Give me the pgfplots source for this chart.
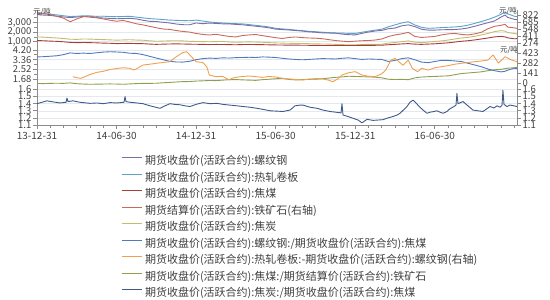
\documentclass[border=0pt]{standalone}
\usepackage{fontspec}
\setmainfont{Noto Sans CJK SC}
\usepackage{pgfplots}
\usepackage{pgfplotstable}
\pgfplotsset{compat=1.18}

\definecolor{cRebar}{HTML}{7A6EA8}
\definecolor{cHrc}{HTML}{5BA3C9}
\definecolor{cJm}{HTML}{A83C3C}
\definecolor{cIron}{HTML}{C86A5A}
\definecolor{cCoke}{HTML}{C4BC6A}
\definecolor{cRatioA}{HTML}{4F7BBD}
\definecolor{cSpread}{HTML}{F0A050}
\definecolor{cRatioB}{HTML}{8F9F50}
\definecolor{cRatioC}{HTML}{3D5A8A}
\definecolor{axisgray}{HTML}{8C8C8C}
\definecolor{labelgray}{HTML}{404040}
\definecolor{gridcol}{HTML}{E4E9EF}

% months after 2013-12-31; prices in yuan/t
\pgfplotstableread{
m hrc rebar jm coke iron
0 3940 3820 1120 1500 870
0.5 3900 3770 1095 1470 855
1 3860 3735 1060 1425 825
1.5 3790 3660 1035 1385 795
2 3700 3575 990 1330 760
2.5 3620 3510 925 1255 690
3 3650 3570 900 1240 745
3.5 3700 3625 915 1280 790
4 3675 3555 900 1270 800
4.5 3640 3490 880 1240 770
5 3655 3470 850 1215 745
5.5 3620 3420 835 1190 720
6 3600 3390 800 1160 700
6.5 3625 3405 812 1180 715
7 3640 3430 825 1205 685
7.5 3560 3370 800 1170 650
8 3480 3230 790 1150 628
8.5 3400 3120 750 1090 600
9 3360 3100 722 1040 572
9.5 3300 3020 742 1062 548
10 3250 2950 760 1090 540
10.5 3220 2840 772 1100 518
11 3200 2770 758 1080 500
11.5 3180 2760 740 1040 488
12 3250 2950 730 1020 460
12.5 3150 2870 718 1008 442
13 3050 2940 700 990 430
13.5 2990 2900 712 1012 445
14 2950 2860 708 1020 422
14.5 2900 2850 690 972 402
15 2880 2800 680 940 392
15.5 2850 2760 700 962 420
16 2780 2680 712 982 432
16.5 2700 2610 700 960 440
17 2620 2540 690 940 418
17.5 2530 2440 672 900 398
18 2390 2305 660 872 378
18.5 2330 2264 650 850 362
19 2280 2220 642 832 382
19.5 2210 2160 640 820 392
20 2150 2108 630 810 380
20.5 2080 2025 622 790 372
21 2040 1980 612 772 368
21.5 1990 1924 605 760 358
22 1940 1900 600 750 340
22.5 1910 1892 592 722 322
23 1890 1790 586 692 310
23.5 1870 1730 590 672 300
24 1860 1705 600 680 310
24.5 1980 1865 610 700 318
25 2100 2005 620 720 322
25.5 2200 2111 622 712 332
26 2300 2180 632 730 352
26.5 2550 2350 680 850 400
27 2750 2420 720 920 432
27.5 2950 2650 762 1000 452
28 3080 2750 800 1080 482
28.5 2740 2570 742 950 402
29 2500 2295 720 900 382
29.5 2390 2205 750 960 392
30 2420 2205 780 1020 402
30.5 2470 2240 830 1080 432
31 2500 2255 880 1170 452
31.5 2530 2265 960 1280 462
32 2600 2320 1040 1380 442
32.5 2720 2430 1100 1450 432
33 2900 2600 1180 1550 452
33.5 3100 2790 1280 1700 482
34 3300 2976 1380 1850 552
34.5 3550 3155 1500 2050 600
35 3850 3568 1550 2150 620
35.3 4100 3770 1500 2100 640
35.5 3900 3530 1400 1950 585
36 3650 3326 1300 1850 570
36.2 3600 3300 1320 1800 560
}\pricetable

% ratios: rebar/coking coal, coking coal/iron ore
\pgfplotstableread{
m ra rb
0 3.60 1.29
0.5 3.62 1.28
1 3.66 1.30
1.5 3.70 1.31
2 3.80 1.30
2.5 3.95 1.34
3 3.90 1.27
3.5 3.93 1.24
4 3.90 1.22
4.5 3.96 1.23
5 4.02 1.24
5.5 4.05 1.25
6 4.03 1.24
6.5 4.00 1.22
7 3.92 1.25
7.5 3.90 1.28
8 3.80 1.30
8.5 3.65 1.30
9 3.50 1.31
9.5 3.36 1.35
10 3.22 1.38
10.5 3.16 1.42
11 3.15 1.45
11.5 3.22 1.46
12 3.36 1.50
12.5 3.45 1.52
13 3.50 1.55
13.5 3.47 1.54
14 3.52 1.58
14.5 3.50 1.62
15 3.54 1.63
15.5 3.55 1.60
16 3.57 1.58
16.5 3.55 1.56
17 3.60 1.62
17.5 3.58 1.66
18 3.55 1.70
18.5 3.48 1.74
19 3.42 1.64
19.5 3.38 1.60
20 3.35 1.62
20.5 3.38 1.65
21 3.42 1.66
21.5 3.45 1.70
22 3.44 1.76
22.5 3.42 1.82
23 3.48 1.86
23.5 3.52 1.92
24 3.45 1.90
24.5 3.38 1.88
25 3.42 1.86
25.5 3.40 1.84
26 3.38 1.78
26.5 3.20 1.66
27 3.30 1.63
27.5 3.45 1.65
28 3.52 1.62
28.5 3.35 1.78
29 3.15 1.85
29.5 3.10 1.88
30 3.20 1.90
30.5 3.30 1.93
31 3.30 1.95
31.5 3.25 2.05
32 3.20 2.15
32.5 3.05 2.20
33 2.90 2.25
33.5 2.75 2.30
34 2.55 2.40
34.5 2.40 2.48
35 2.30 2.52
35.3 2.35 2.58
35.5 2.45 2.62
36 2.62 2.66
36.2 2.58 2.70
}\ratiotable

% hot-rolled coil minus rebar, yuan/t
\pgfplotstableread{
m s
2.7 89
3 75
3.3 66
3.5 80
4 120
4.5 150
5 165
5.5 190
6 205
6.5 215
7 207
7.3 183
7.5 200
8 254
8.5 265
9 278
9.5 290
10 300
10.5 370
11 430
11.3 441
11.5 400
12 300
12.5 290
12.8 230
13 113
13.5 89
14 95
14.5 42
14.7 66
15 80
15.5 92
16 99
16.5 90
17 80
17.5 92
18 85
18.5 66
19 58
19.5 50
20 42
20.5 55
21 62
21.5 60
22 40
22.3 18
22.7 60
23 113
23.5 145
24 160
24.5 113
25 95
25.5 89
26 130
26.3 183
26.7 324
27 348
27.3 300
27.6 250
28 324
28.3 207
28.7 160
29 207
29.5 183
30 215
30.5 230
31 245
31.5 265
32 278
32.5 290
33 300
33.5 310
34 324
34.4 395
34.8 282
35.3 370
35.8 324
36.2 300
}\spreadtable

% coke/coking coal
\pgfplotstableread{
m c
0 1.40
0.75 1.44
1.73 1.41
2.19 1.42
2.26 1.48
2.34 1.43
2.71 1.44
3.24 1.42
4.0 1.405
4.52 1.41
4.98 1.40
5.5 1.415
6.03 1.41
6.56 1.42
6.64 1.50
6.71 1.43
7.01 1.42
7.54 1.41
7.99 1.40
8.52 1.37
9.28 1.335
9.65 1.37
10.03 1.40
10.4 1.39
10.78 1.385
11.16 1.37
11.54 1.36
11.99 1.39
12.52 1.415
13.05 1.40
13.57 1.405
14.03 1.39
14.55 1.38
15.08 1.37
15.54 1.36
16.06 1.35
16.59 1.335
17.04 1.32
17.57 1.30
18.1 1.295
18.55 1.29
19.08 1.31
19.46 1.37
19.83 1.38
20.06 1.38
20.59 1.35
21.12 1.335
21.57 1.31
22.1 1.29
22.55 1.28
22.93 1.27
23.0 1.40
23.08 1.24
23.45 1.22
23.83 1.195
24.21 1.17
24.51 1.13
24.89 1.18
25.34 1.165
25.72 1.17
26.09 1.175
26.47 1.20
26.85 1.22
27.15 1.24
27.38 1.265
27.68 1.32
27.9 1.36
28.13 1.42
28.36 1.45
28.58 1.41
28.88 1.35
29.18 1.30
29.41 1.265
29.64 1.28
29.94 1.29
30.17 1.30
30.39 1.28
30.62 1.265
30.92 1.29
31.15 1.33
31.45 1.36
31.6 1.38
31.67 1.545
31.75 1.40
32.13 1.43
32.5 1.37
32.88 1.31
33.26 1.30
33.63 1.29
33.94 1.33
34.16 1.36
34.46 1.34
34.69 1.37
34.92 1.35
35.07 1.38
35.14 1.59
35.22 1.39
35.44 1.36
35.67 1.38
35.97 1.37
36.2 1.36
}\cokeratiotable

\pgfplotsset{
  panel/.style={
    scale only axis, width=480pt, xmin=0, xmax=36.2,
    anchor=south west,
    axis line style={draw=axisgray, line width=0.8pt},
    tick style={draw=axisgray, line width=0.7pt},
    major tick length=4pt, minor tick length=2.5pt,
    tick align=outside,
    ticklabel style={font=\fontsize{9.5}{10}\selectfont, text=labelgray},
    /pgf/number format/assume math mode=true,
    every axis plot/.append style={line width=0.9pt, line join=round},
  },
  leftpanel/.style={panel, axis y line*=left,
    ymajorgrids, major grid style={draw=gridcol, line width=0.5pt},
    yticklabel style={inner sep=1.5pt}},
  rightpanel/.style={panel, axis y line*=right, axis x line=none, xtick=\empty,
    yticklabel style={inner sep=1.5pt}},
}

\begin{document}
\begin{tikzpicture}
\useasboundingbox (0pt,0pt) rectangle (550pt,300pt);

% ---- top panel: prices ----
\begin{axis}[leftpanel, axis x line=none, xtick=\empty,
  at={(37pt,254pt)}, height=36pt,
  ymin=550, ymax=4300,
  ytick={1000,2000,3000}, yticklabels={{1,000},{2,000},{3,000}},
  minor ytick={1500,2500,3500}]
  \addplot[cHrc] table[x=m,y=hrc] {\pricetable};
  \addplot[cRebar] table[x=m,y=rebar] {\pricetable};
  \addplot[cCoke] table[x=m,y=coke] {\pricetable};
  \addplot[cJm] table[x=m,y=jm] {\pricetable};
\end{axis}
\begin{axis}[rightpanel, at={(37pt,254pt)}, height=36pt,
  ymin=215, ymax=920,
  ytick={274,411,548,685,822}]
  \addplot[cIron] table[x=m,y=iron] {\pricetable};
\end{axis}

% ---- middle panel: ratios and spread ----
\begin{axis}[leftpanel, axis x line=none, xtick=\empty,
  at={(37pt,214pt)}, height=40pt,
  ymin=1.07, ymax=4.55,
  ytick={1.68,2.52,3.36,4.20}, yticklabels={1.68,2.52,3.36,4.20},
  minor ytick={2.10,2.94,3.78}]
  \addplot[cRatioB] table[x=m,y=rb] {\ratiotable};
  \addplot[cRatioA] table[x=m,y=ra] {\ratiotable};
\end{axis}
\begin{axis}[rightpanel, at={(37pt,214pt)}, height=40pt,
  ymin=-42, ymax=522,
  ytick={0,141,282,423}]
  \addplot[cSpread] table[x=m,y=s] {\spreadtable};
\end{axis}

% ---- bottom panel: coke / coking coal ----
\begin{axis}[rightpanel, at={(37pt,175pt)}, height=39pt,
  ymin=1.1, ymax=1.649,
  ytick={1.1,1.2,1.3,1.4,1.5,1.6}, yticklabels={1.1,1.2,1.3,1.4,1.5,1.6}]
\end{axis}
\begin{axis}[leftpanel, at={(37pt,175pt)}, height=39pt,
  axis x line*=bottom,
  ymin=1.1, ymax=1.649,
  ytick={1.1,1.2,1.3,1.4,1.5,1.6}, yticklabels={1.1,1.2,1.3,1.4,1.5,1.6},
  xtick={0,6,12,18,24,30},
  xticklabels={13-12-31,14-06-30,14-12-31,15-06-30,15-12-31,16-06-30},
  minor xtick={1,2,3,4,5,7,8,9,10,11,13,14,15,16,17,19,20,21,22,23,25,26,27,28,29,31,32,33,34,35,36},
  xticklabel style={font=\fontsize{10}{10}\selectfont, text=labelgray},
  legend cell align=left,
  legend style={at={(0.175,-0.80)}, anchor=north west, draw=none, fill=none,
    font=\fontsize{11}{12}\selectfont, text=labelgray,
    row sep=6pt, inner sep=0pt, outer sep=0pt,
    nodes={inner sep=0pt, text height=8.5pt, text depth=2pt},
    /tikz/every odd column/.append style={column sep=3pt}},
  legend image code/.code={\draw[#1, line width=1pt] (0pt,3.5pt) -- (20pt,3.5pt);}]
  \addlegendimage{cRebar}
  \addlegendentry{期货收盘价(活跃合约):螺纹钢}
  \addlegendimage{cHrc}
  \addlegendentry{期货收盘价(活跃合约):热轧卷板}
  \addlegendimage{cJm}
  \addlegendentry{期货收盘价(活跃合约):焦煤}
  \addlegendimage{cIron}
  \addlegendentry{期货结算价(活跃合约):铁矿石(右轴)}
  \addlegendimage{cCoke}
  \addlegendentry{期货收盘价(活跃合约):焦炭}
  \addlegendimage{cRatioA}
  \addlegendentry{期货收盘价(活跃合约):螺纹钢:/期货收盘价(活跃合约):焦煤}
  \addlegendimage{cSpread}
  \addlegendentry{期货收盘价(活跃合约):热轧卷板:-期货收盘价(活跃合约):螺纹钢(右轴)}
  \addlegendimage{cRatioB}
  \addlegendentry{期货收盘价(活跃合约):焦煤:/期货结算价(活跃合约):铁矿石}
  \addplot[cRatioC] table[x=m,y=c] {\cokeratiotable};
  \addlegendentry{期货收盘价(活跃合约):焦炭:/期货收盘价(活跃合约):焦煤}
\end{axis}

% unit labels
\node[font=\fontsize{7.5}{8}\selectfont, text=labelgray] at (42pt,288pt) {元/吨};
\node[font=\fontsize{7.5}{8}\selectfont, text=labelgray] at (508pt,289pt) {元/吨};
\node[font=\fontsize{7.5}{8}\selectfont, text=labelgray] at (509pt,250pt) {元/吨};
\end{tikzpicture}
\end{document}
